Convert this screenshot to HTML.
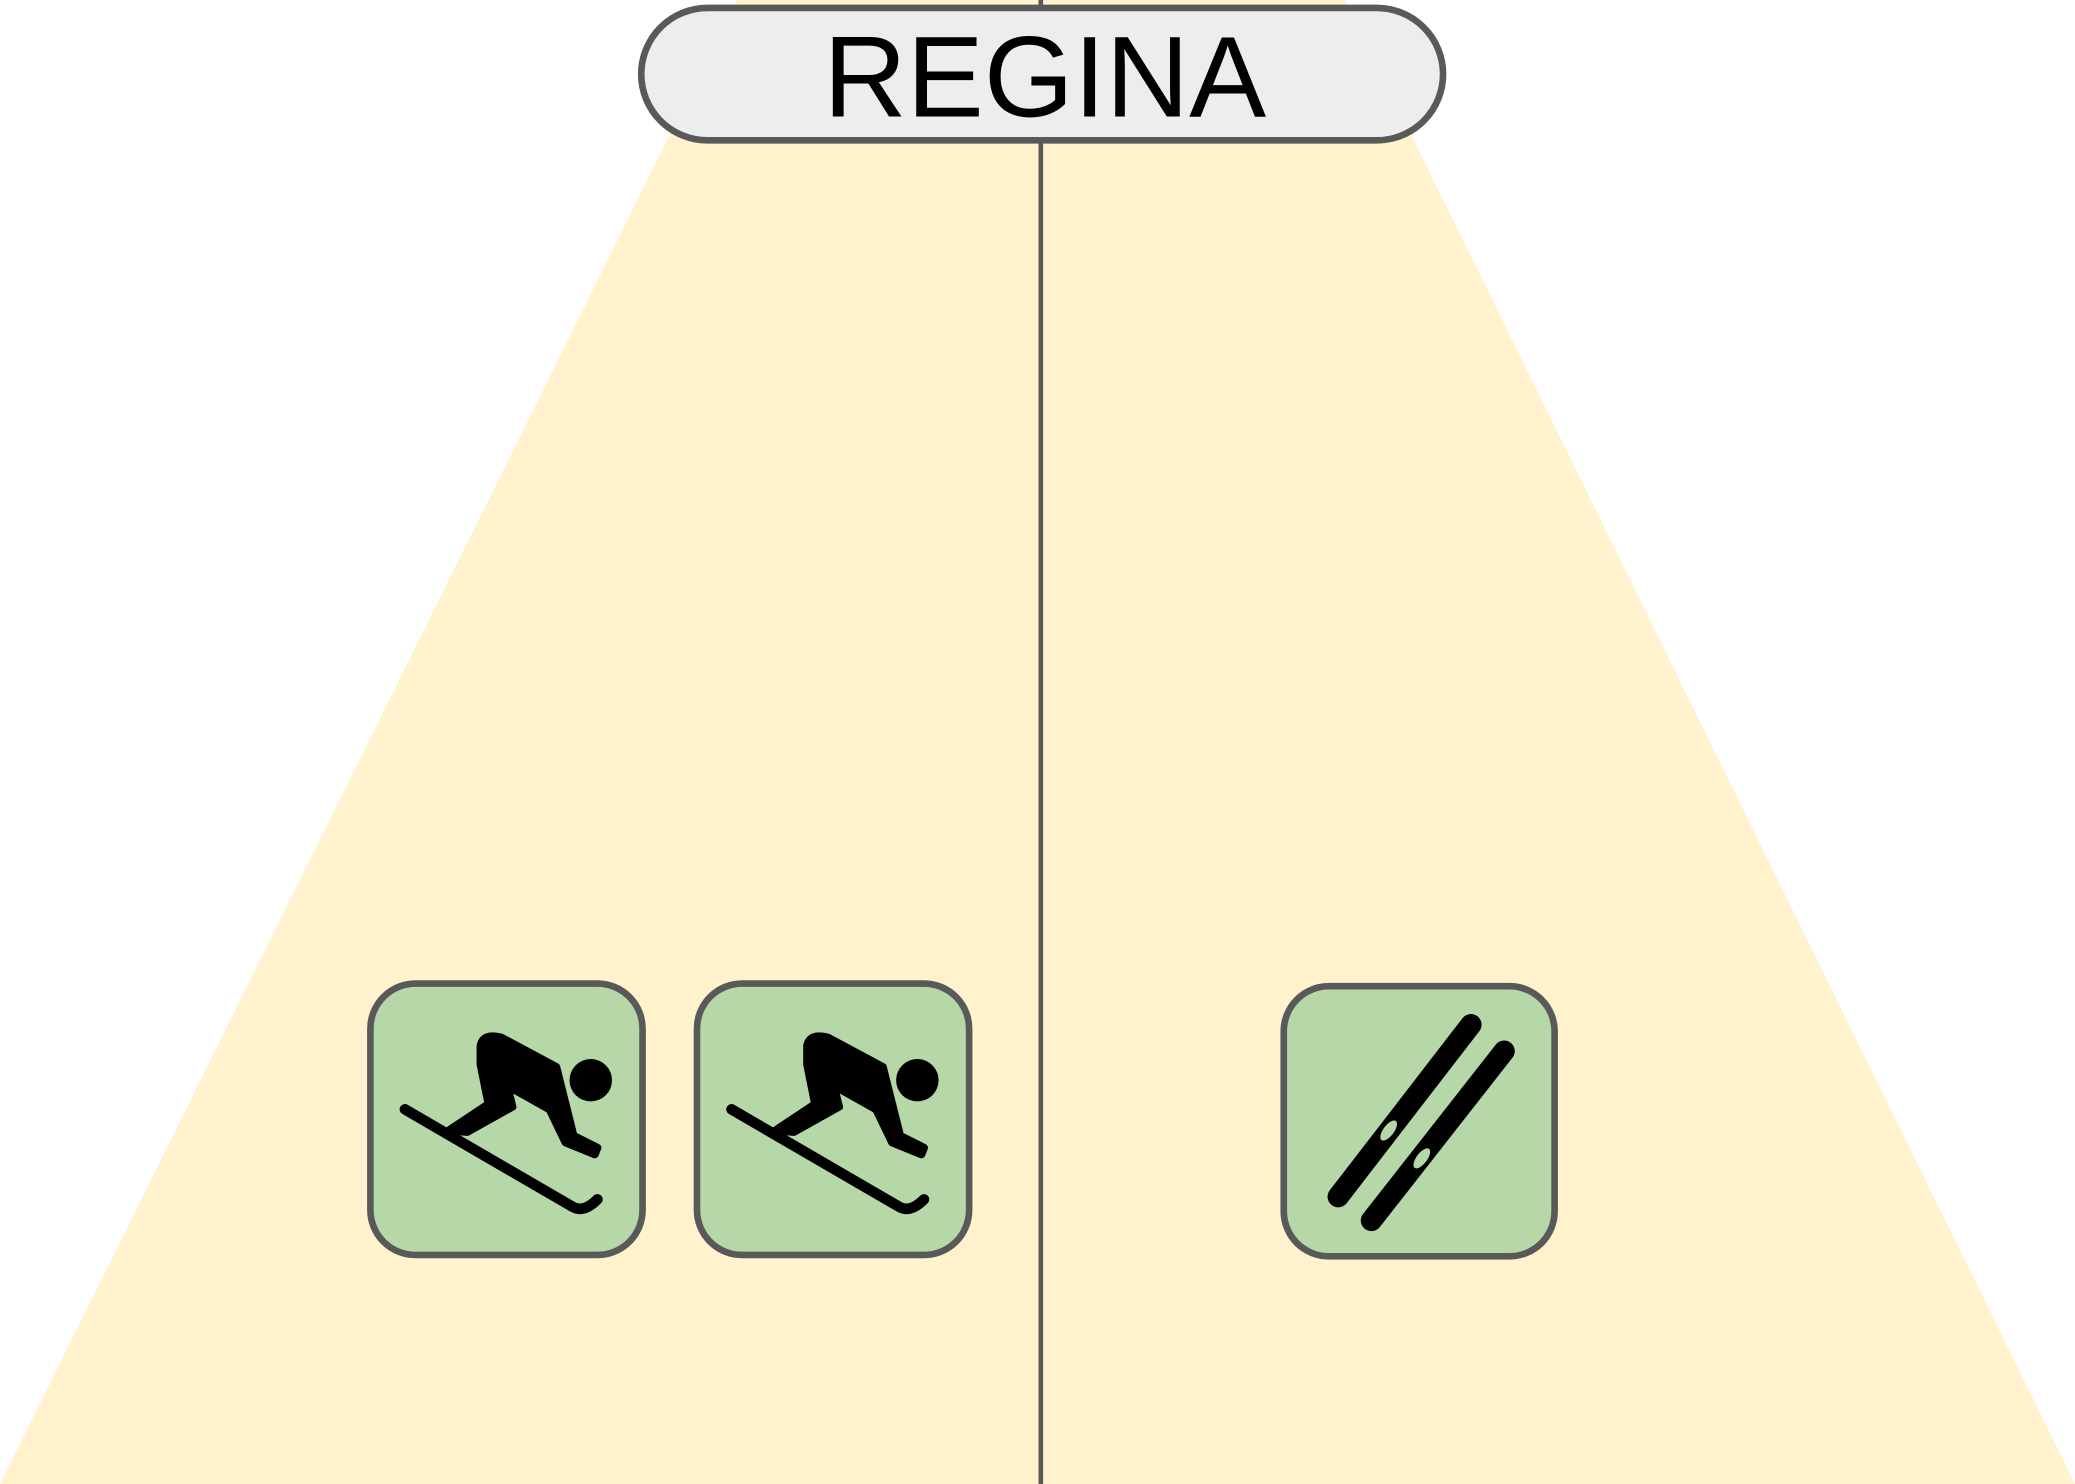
<!DOCTYPE html>
<html><head><meta charset="utf-8"><style>
html,body{margin:0;padding:0;background:#fff;}
svg{display:block;}
</style></head><body>
<svg width="2075" height="1484" viewBox="0 0 1563 1121" preserveAspectRatio="none" xmlns="http://www.w3.org/2000/svg">
  <polygon points="555,0 1013,0 1563,1121 0,1121" fill="#fff2cc"/>
  <line x1="784" y1="0" x2="784" y2="1121" stroke="#595959" stroke-width="3.5"/>
  <g>
    <rect x="483" y="6" width="604" height="100" rx="50" ry="50" fill="#ededed" stroke="#595959" stroke-width="5"/>
    <text x="787" y="88" text-anchor="middle" font-family="Liberation Sans, sans-serif" font-size="87" fill="#000">REGINA</text>
  </g>
  <g transform="translate(278,742)">
    <rect x="1" y="1" width="205" height="205" rx="34" fill="#b6d7a8" stroke="#595959" stroke-width="5"/>
    <g fill="#000" stroke="#000" stroke-linecap="round" stroke-linejoin="round">
      <path d="M27,96 L154,170 Q162,174 172,164" fill="none" stroke-width="8"/>
      <path d="M84,48 Q86,38 100,42 L141,64 L154,116 L172,125 L170,130 L148,121 L136,96 L104,78 L108,94 L74,113 L60,112 L90,92 L84,62 Z" stroke-width="6"/>
      <circle cx="167" cy="74" r="16" stroke="none"/>
    </g>
  </g>
  <g transform="translate(524,742)">
    <rect x="1" y="1" width="205" height="205" rx="34" fill="#b6d7a8" stroke="#595959" stroke-width="5"/>
    <g fill="#000" stroke="#000" stroke-linecap="round" stroke-linejoin="round">
      <path d="M27,96 L154,170 Q162,174 172,164" fill="none" stroke-width="8"/>
      <path d="M84,48 Q86,38 100,42 L141,64 L154,116 L172,125 L170,130 L148,121 L136,96 L104,78 L108,94 L74,113 L60,112 L90,92 L84,62 Z" stroke-width="6"/>
      <circle cx="167" cy="74" r="16" stroke="none"/>
    </g>
  </g>
  <g transform="translate(966,744)">
    <rect x="1" y="1" width="204" height="204" rx="34" fill="#b6d7a8" stroke="#595959" stroke-width="5"/>
    <g stroke="#000" stroke-linecap="round" stroke-width="16">
      <line x1="142" y1="30" x2="42" y2="160"/>
      <line x1="167" y1="50" x2="67" y2="178"/>
    </g>
    <ellipse cx="80" cy="110" rx="4" ry="9" transform="rotate(37 80 110)" fill="#b6d7a8"/>
    <ellipse cx="105" cy="131" rx="4" ry="9" transform="rotate(37 105 131)" fill="#b6d7a8"/>
  </g>
</svg>
</body></html>
